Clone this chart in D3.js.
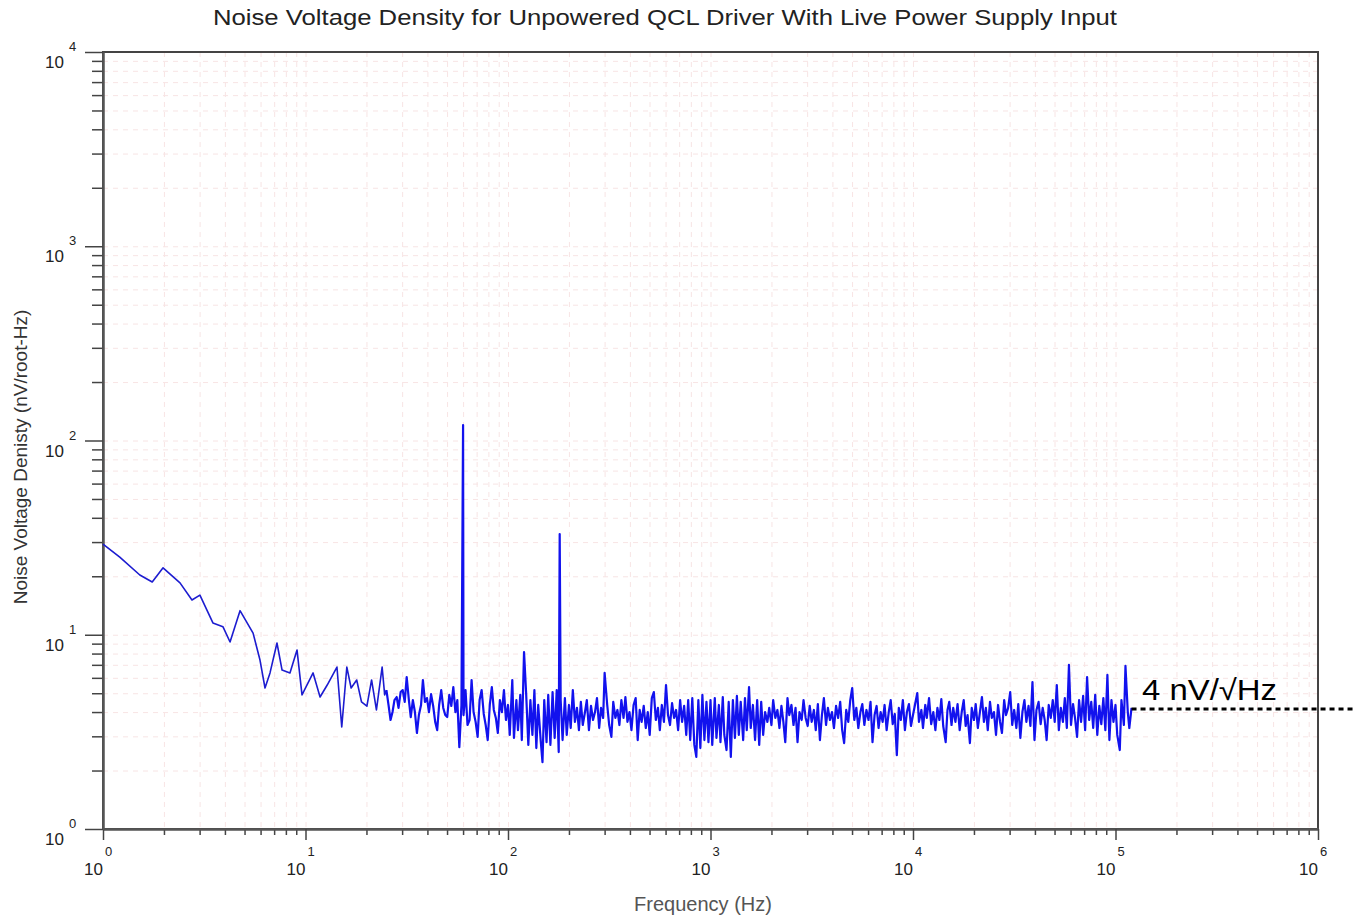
<!DOCTYPE html>
<html>
<head>
<meta charset="utf-8">
<script src="https://cdnjs.cloudflare.com/ajax/libs/d3/7.8.5/d3.min.js"></script>
<style>
body { margin: 0; background: #fff; }
svg { display: block; font-family: "Liberation Sans", Arial, sans-serif; }
</style>
</head>
<body>
<div id="chart"></div>
<script>
// [frequency Hz, noise nV/rtHz]
var lowFreq = [[1.00,29.3],[1.21,25.1],[1.52,20.3],[1.75,18.7],[1.98,22.1],[2.40,18.5],[2.75,15.1],[3.01,16.0],
    [3.49,11.5],[3.91,11.0],[4.24,9.18],[4.75,13.3],[5.51,10.2],[5.96,7.41],[6.31,5.32],[6.68,6.36],[7.23,9.07],
    [7.66,6.58],[8.38,6.36],[9.08,8.35],[9.61,4.90],[10.9,6.36],[11.8,4.78],[12.8,5.51],[14.3,6.82],[15.1,3.35],
    [16.0,6.82],[16.8,5.32],[17.9,5.85],[18.9,4.51],[20.1,4.29],[21.2,5.85],[22.4,4.10],[23.9,6.82],[24.6,4.90],
    [25.1,5.19]];

var decade1 = [[25.1,5.19],[25.7,4.35],[26.3,3.64],[26.9,4.00],[27.5,4.61],[28.2,4.78],[28.8,4.20],[29.5,5.07],
    [30.2,5.19],[30.9,4.51],[31.6,6.06],[32.4,4.61],[33.1,3.77],[33.9,4.61],[34.7,4.00],[35.5,3.12],[36.3,3.86],
    [37.2,4.35],[38.0,5.85],[38.9,4.51],[39.8,4.72],[40.7,4.00],[41.7,4.95],[42.7,4.30],[43.7,3.56],[44.7,3.23],
    [45.7,4.35],[46.8,5.19],[47.9,4.20],[49.0,3.86],[50.1,3.77],[51.3,4.90],[52.5,4.30],[53.7,5.38],[55.0,4.00],
    [56.2,4.61],[57.5,2.64],[58.9,4.35],[60.0,120],[60.3,3.86],[61.7,5.19],[63.1,3.43],[64.6,3.64],[66.1,5.85],
    [67.6,4.00],[69.2,3.56],[70.8,2.98],[72.4,4.61],[74.1,5.19],[75.9,3.91],[77.6,3.43],[79.4,2.87],[81.3,4.35],
    [83.2,5.38],[85.1,4.10],[87.1,3.73],[89.1,3.12],[91.2,4.61],[93.3,4.00],[95.5,5.19],[97.7,3.64]];

var decade2 = [[100,4.35],[102,3.05],[105,5.85],[107,2.94],[110,4.61],[112,3.23],[115,4.90],[117,2.87],[120,8.15],
    [123,4.90],[126,2.71],[129,4.61],[132,3.05],[135,5.19],[138,2.61],[141,4.35],[145,2.87],[148,2.21],[151,4.61],
    [155,2.80],[158,4.90],[162,2.71],[166,5.07],[170,2.94],[174,5.19],[178,2.49],[180,33.0],[182,4.61],[186,2.87],
    [191,4.72],[195,3.05],[200,4.35],[204,3.31],[209,5.19],[214,3.56],[219,4.20],[224,3.23],[229,4.51],[234,3.43],
    [240,4.00],[245,4.61],[251,3.23],[257,4.30],[263,3.64],[269,4.00],[275,4.72],[282,3.31],[288,4.20],[295,3.73],
    [300,6.36],[309,4.35],[316,3.43],[324,2.98],[331,4.51],[339,3.73],[347,4.10],[355,3.43],[363,4.61],[372,3.73],
    [380,4.78],[389,3.56],[398,4.00],[407,3.23],[417,4.35],[427,4.72],[437,2.87],[447,4.10],[457,3.56],[468,4.30],
    [479,3.31],[490,4.00],[501,3.05],[513,4.72],[525,5.07],[537,3.64],[550,4.20],[562,3.23],[575,4.35],[589,3.56],
    [603,5.51],[617,3.86],[631,3.43],[646,4.45],[661,3.73],[676,4.10],[692,3.23],[708,4.61],[724,3.56],[741,4.30],
    [759,3.05],[776,4.61],[794,2.87],[813,4.72],[832,2.71],[851,2.35],[871,4.61],[891,2.61],[912,4.90],[933,2.87],
    [955,4.51],[977,2.80]];

var decade3 = [[1000,4.61],[1020,2.71],[1050,4.72],[1070,2.94],[1100,4.35],[1120,2.80],[1150,4.78],[1170,3.05],
    [1200,2.55],[1230,4.51],[1260,2.35],[1290,4.61],[1320,2.94],[1350,4.84],[1380,3.05],[1410,4.51],[1450,2.87],
    [1480,4.72],[1510,3.23],[1550,5.38],[1580,3.31],[1620,4.35],[1660,2.87],[1700,4.61],[1740,2.71],[1780,4.51],
    [1820,3.05],[1860,4.00],[1910,3.56],[1950,4.20],[2000,3.43],[2040,4.61],[2090,3.73],[2140,4.10],[2190,3.31],
    [2240,4.30],[2290,3.56],[2340,2.80],[2400,4.72],[2450,3.86],[2510,4.35],[2570,3.43],[2630,4.20],[2690,2.80],
    [2750,4.00],[2820,3.64],[2880,4.61],[2950,3.73],[3020,3.39],[3090,4.30],[3160,3.56],[3240,4.10],[3310,3.23],
    [3390,4.40],[3470,2.87],[3550,3.86],[3630,4.72],[3720,3.43],[3800,4.20],[3890,3.64],[3980,4.00],[4070,3.31],
    [4170,4.30],[4270,3.73],[4370,4.51],[4470,3.23],[4570,2.77],[4680,4.10],[4790,3.56],[4900,4.61],[5010,5.32],
    [5130,3.64],[5250,4.20],[5370,3.31],[5500,4.00],[5620,4.40],[5750,3.43],[5890,4.10],[6030,3.64],[6170,4.51],
    [6310,2.80],[6460,3.86],[6610,4.30],[6760,3.31],[6920,4.00],[7080,3.56],[7240,4.35],[7410,3.23],[7590,4.00],
    [7760,4.61],[7940,3.47],[8130,3.91],[8320,2.40],[8510,4.20],[8710,3.64],[8910,4.61],[9120,3.23],[9330,4.00],
    [9550,4.40],[9770,3.39]];

var decade4 = [[10000,3.86],[10200,4.30],[10500,5.01],[10700,3.56],[11000,4.10],[11200,3.31],[11500,4.35],
    [11700,3.73],[12000,4.72],[12300,3.47],[12600,4.00],[12900,3.23],[13200,4.20],[13500,3.64],[13800,4.67],
    [14100,3.39],[14500,2.80],[14800,4.10],[15100,4.51],[15500,3.43],[15800,4.20],[16200,3.56],[16600,4.40],
    [17000,3.23],[17400,4.00],[17800,4.61],[18200,3.39],[18600,3.86],[19100,2.77],[19500,4.20],[20000,3.64],
    [20400,4.40],[20900,3.31],[21400,4.00],[21900,4.78],[22400,3.56],[22900,4.20],[23400,3.23],[24000,4.51],
    [24500,3.73],[25100,4.00],[25700,3.05],[26300,4.35],[26900,3.56],[27500,3.12],[28200,4.61],[28800,3.86],
    [29500,4.20],[30200,5.07],[30900,3.43],[31600,4.10],[32400,3.31],[33100,4.40],[33900,2.94],[34700,4.00],
    [35500,4.61],[36300,3.56],[37200,4.30],[38000,3.39],[38900,5.71],[39800,2.87],[40700,4.10],[41700,4.51],
    [42700,3.47],[43700,4.20],[44700,3.64],[45700,2.87],[46800,4.35],[47900,3.73],[49000,4.61],[50100,3.56],
    [51300,5.51],[52500,3.23],[53700,4.20],[55000,3.56],[56200,4.72],[57500,3.31],[58900,6.99],[60300,3.43],
    [61700,4.40],[63100,3.73],[64600,2.98],[66100,4.61],[67600,3.56],[69200,4.84],[70800,3.23],[72400,6.06],
    [74100,3.64],[75900,4.51],[77600,3.31],[79400,4.90],[81300,3.05],[83200,4.30],[85100,3.47],[87100,4.72],
    [89100,3.23],[91200,6.21],[93300,2.87],[95500,4.61],[97700,3.56]];

var decade5 = [[100000,4.35],[102000,3.05],[105000,2.55],[107000,4.61],[110000,3.43],[112000,6.91],
    [115000,4.00],[117000,3.31],[120000,4.20]];

var floorLevel = 4.15;
var floorLabel = "4 nV/\u221AHz";
var xDecades = [0, 1, 2, 3, 4, 5, 6];
var yDecades = [0, 1, 2, 3, 4];

var chartTitle = "Noise Voltage Density for Unpowered QCL Driver With Live Power Supply Input";
var xTitle = "Frequency (Hz)";
var yTitle = "Noise Voltage Denisty (nV/root-Hz)";

var width = 1356, height = 917;
var plotL = 103, plotR = 1318, plotT = 52, plotB = 829;

var svg = d3.select("#chart").append("svg").attr("width", width).attr("height", height);

var x = d3.scaleLog().domain([1, 1e6]).range([plotL, plotR]);
var y = d3.scaleLog().domain([1, 1e4]).range([plotB, plotT]);

function majors(decades) {
    return decades.map(function (d) { return Math.pow(10, d); });
}
function minors(decades) {
    var out = [];
    decades.slice(0, -1).forEach(function (d) {
        for (var m = 2; m < 10; m++) out.push(m * Math.pow(10, d));
    });
    return out;
}

var xMajor = majors(xDecades), xMinor = minors(xDecades);
var yMajor = majors(yDecades), yMinor = minors(yDecades);

// grid
var grid = svg.append("g")
    .attr("stroke", "#f2cccc")
    .attr("stroke-width", 1)
    .attr("stroke-dasharray", "5,5")
    .attr("opacity", 0.5);

grid.selectAll(".vg").data(xMajor.concat(xMinor)).enter().append("line")
    .attr("x1", function (d) { return x(d) + 0.5; })
    .attr("x2", function (d) { return x(d) + 0.5; })
    .attr("y1", plotT)
    .attr("y2", plotB);

grid.selectAll(".hg").data(yMajor.concat(yMinor)).enter().append("line")
    .attr("x1", plotL)
    .attr("x2", plotR)
    .attr("y1", function (d) { return y(d) + 0.5; })
    .attr("y2", function (d) { return y(d) + 0.5; });

// frame
svg.append("rect")
    .attr("x", plotL).attr("y", plotT)
    .attr("width", plotR - plotL).attr("height", plotB - plotT)
    .attr("fill", "none")
    .attr("stroke", "#444")
    .attr("stroke-width", 2);

// axes
function styleAxis(g) {
    g.select(".domain").attr("stroke", "#555").attr("stroke-width", 2);
    g.selectAll(".tick line").attr("stroke", "#444").attr("stroke-width", 1.5);
}

svg.append("g")
    .attr("transform", "translate(0," + plotB + ")")
    .call(d3.axisBottom(x).tickValues(xMinor).tickSize(6).tickSizeOuter(0).tickFormat(""))
    .call(styleAxis);
svg.append("g")
    .attr("transform", "translate(0," + plotB + ")")
    .call(d3.axisBottom(x).tickValues(xMajor).tickSize(11).tickSizeOuter(0).tickFormat(""))
    .call(styleAxis);

svg.append("g")
    .attr("transform", "translate(" + plotL + ",0)")
    .call(d3.axisLeft(y).tickValues(yMinor).tickSize(11).tickSizeOuter(0).tickFormat(""))
    .call(styleAxis);
svg.append("g")
    .attr("transform", "translate(" + plotL + ",0)")
    .call(d3.axisLeft(y).tickValues(yMajor).tickSize(18).tickSizeOuter(0).tickFormat(""))
    .call(styleAxis);

// tick labels 10^n
var xLab = svg.append("g").attr("fill", "#222");
xLab.selectAll(".base").data(xDecades).enter().append("text")
    .attr("x", function (d) { return x(Math.pow(10, d)); })
    .attr("y", 875)
    .attr("text-anchor", "end")
    .attr("font-size", 17)
    .text("10");
xLab.selectAll(".exp").data(xDecades).enter().append("text")
    .attr("x", function (d) { return x(Math.pow(10, d)) + 2; })
    .attr("y", 856)
    .attr("font-size", 13)
    .text(function (d) { return d; });

var yLab = svg.append("g").attr("fill", "#222");
yLab.selectAll(".base").data(yDecades).enter().append("text")
    .attr("x", 64)
    .attr("y", function (d) { return y(Math.pow(10, d)) + 16; })
    .attr("text-anchor", "end")
    .attr("font-size", 17)
    .text("10");
yLab.selectAll(".exp").data(yDecades).enter().append("text")
    .attr("x", 69)
    .attr("y", function (d) { return y(Math.pow(10, d)) - 1; })
    .attr("font-size", 13)
    .text(function (d) { return d; });

// titles
svg.append("text")
    .attr("x", 665).attr("y", 25)
    .attr("text-anchor", "middle")
    .attr("font-size", 22)
    .attr("fill", "#222")
    .attr("textLength", 904)
    .attr("lengthAdjust", "spacingAndGlyphs")
    .text(chartTitle);

svg.append("text")
    .attr("x", 703).attr("y", 911)
    .attr("text-anchor", "middle")
    .attr("font-size", 20)
    .attr("fill", "#555")
    .text(xTitle);

svg.append("text")
    .attr("transform", "translate(27,457) rotate(-90)")
    .attr("text-anchor", "middle")
    .attr("font-size", 19)
    .attr("fill", "#333")
    .text(yTitle);

// spectrum: smooth low end, dense noise band
var line = d3.line()
    .x(function (d) { return x(d[0]); })
    .y(function (d) { return y(d[1]); });

svg.append("path")
    .datum(lowFreq)
    .attr("d", line)
    .attr("fill", "none")
    .attr("stroke", "#1c1cd0")
    .attr("stroke-width", 1.6)
    .attr("stroke-linejoin", "round");

var band = decade1.concat(decade2, decade3, decade4, decade5);
svg.append("path")
    .datum(band)
    .attr("d", line)
    .attr("fill", "none")
    .attr("stroke", "#1212ee")
    .attr("stroke-width", 2.2)
    .attr("stroke-linejoin", "round");

// 4 nV floor marker
var lastF = band[band.length - 1][0];
svg.append("line")
    .attr("x1", x(lastF))
    .attr("x2", width)
    .attr("y1", y(floorLevel))
    .attr("y2", y(floorLevel))
    .attr("stroke", "#000")
    .attr("stroke-width", 3)
    .attr("stroke-dasharray", "5,4");

svg.append("text")
    .attr("x", 1142)
    .attr("y", 700)
    .attr("font-size", 29)
    .attr("fill", "#000")
    .attr("textLength", 135)
    .attr("lengthAdjust", "spacingAndGlyphs")
    .text(floorLabel);
</script>
</body>
</html>
